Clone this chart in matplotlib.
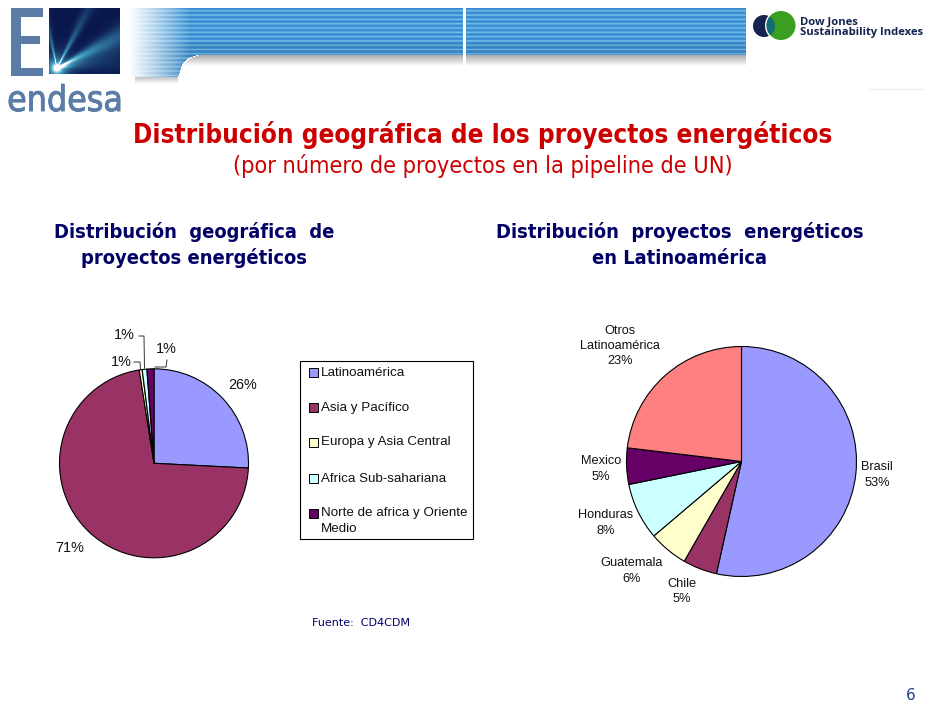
import numpy as np
import matplotlib
matplotlib.use("Agg")
import matplotlib.pyplot as plt
import matplotlib.patheffects as pe
from matplotlib.patches import Rectangle, Circle

W, H = 940, 705

# left pie
world_labels = ["Latinoamérica", "Asia y Pacífico", "Europa y Asia Central",
                "Africa Sub-sahariana", "Norte de africa y Oriente\nMedio"]
world_values = [25.8, 71.7, 0.5, 0.8, 1.2]
world_colors = ["#9999ff", "#993366", "#ffffcc", "#ccffff", "#660066"]
world_texts = ["26%", "71%", "1%", "1%", "1%"]

# right pie
latam_labels = ["Brasil", "Chile", "Guatemala", "Honduras", "Mexico", "Otros\nLatinoamérica"]
latam_values = [53.5, 4.8, 5.5, 8.0, 5.1, 23.1]
latam_colors = ["#9999ff", "#993366", "#ffffcc", "#ccffff", "#660066", "#ff8080"]
latam_texts = ["53%", "5%", "6%", "8%", "5%", "23%"]

fig = plt.figure(figsize=(9.4, 7.05), dpi=100, facecolor="white")

bg = fig.add_axes([0, 0, 1, 1])
bg.axis("off")


def pie_at(cx, cy, r, values, colors):
    ax = fig.add_axes([(cx - r) / W, 1 - (cy + r) / H, 2 * r / W, 2 * r / H])
    ax.pie(values, colors=colors, startangle=90, counterclock=False,
           wedgeprops=dict(edgecolor="black", linewidth=0.8, clip_on=False))
    ax.set_xlim(-1, 1)
    ax.set_ylim(-1, 1)
    ax.set_zorder(2)
    return ax


# banner raster, one pixel per pixel: stripes, left fade, curved notch, shadow
xx, yy = np.meshgrid(np.arange(126, 746) + 0.5, np.arange(8, 88) + 0.5)
light = np.exp(-((yy % 4.3 - 2.2) / 0.9) ** 2)
rgb = np.array([0.22, 0.55, 0.82])[None, None, :] + light[:, :, None] * np.array([0.24, 0.19, 0.10])
low = (yy > 43)[:, :, None]
rgb = np.where(low, rgb * 0.93, rgb)
alpha = np.clip((xx - 128) / 62, 0, 1) ** 1.1
edge = np.interp(yy, [55, 58, 65, 77], [198, 188, 182, 178])
alpha = np.where((yy > 55) & (xx > edge), 0, alpha)
alpha = np.where(yy > 77, 0, alpha)
banner = np.dstack([np.clip(rgb, 0, 1), alpha])
# shadow below the strip and below the tab
shade = np.zeros_like(yy)
shade = np.where((yy > 54) & (yy < 66) & (xx > edge + 2), 0.62 * (66 - yy) / 12, shade)
shade = np.where((yy > 77) & (yy < 84) & (xx > 135) & (xx < 178), 0.42 * (84 - yy) / 7, shade)
shadow = np.dstack([np.full_like(yy, 0.42)] * 3 + [shade])
bg.imshow(shadow, extent=(126, 746, 88, 8), aspect="auto", zorder=1)
bg.imshow(banner, extent=(126, 746, 88, 8), aspect="auto", zorder=1.5, interpolation="bilinear")
bg.set_xlim(0, W)
bg.set_ylim(H, 0)
bg.add_patch(Rectangle((463, 8), 3, 58, fc="white", ec="none", zorder=3))
bg.plot([868, 924], [88.5, 88.5], color="#eeeeee", lw=1, zorder=1)

# endesa logo: the E, then the spark square
logo_blue = "#5b7ca6"
for box in [(10.5, 8, 10, 68), (10.5, 8, 32.5, 9), (10.5, 36, 29, 8), (10.5, 68, 32.5, 8)]:
    bg.add_patch(Rectangle(box[:2], box[2], box[3], fc=logo_blue, ec="none", zorder=3))
sx, sy = np.meshgrid(np.arange(49, 120) + 0.5, np.arange(8, 74) + 0.5)
dx, dy = sx - 57, 68 - sy
rad = np.hypot(dx, dy) + 0.1
ang = np.degrees(np.arctan2(dy, dx))
glow = np.exp(-rad / 7.0) * 1.5
for a, wid, length, amp in [(102, 4, 30, 0.8), (62, 5, 40, 0.75), (27, 8, 70, 0.75), (12, 14, 40, 0.5)]:
    glow = glow + amp * np.exp(-((ang - a) / wid) ** 2) * np.exp(-rad / length)
glow = np.clip(glow, 0, 1)[:, :, None]
dark = np.array([0.04, 0.09, 0.30])
mid = np.array([0.25, 0.62, 0.76])
spark = np.where(glow < 0.6, dark + (mid - dark) * glow / 0.6, mid + (1 - mid) * (glow - 0.6) / 0.4)
bg.imshow(spark, extent=(49, 120, 74, 8), aspect="auto", zorder=3, interpolation="bilinear")
bg.set_xlim(0, W)
bg.set_ylim(H, 0)
bg.text(65, 111, "endesa", color=logo_blue, fontsize=25.5, ha="center", va="baseline",
        family="DejaVu Sans", stretch="condensed", zorder=3,
        path_effects=[pe.withStroke(linewidth=0.7, foreground=logo_blue)])

# Dow Jones logo
djsi_dark = "#14234f"
bg.add_patch(Circle((764, 26), 11, fc=djsi_dark, ec="none", zorder=3))
bg.add_patch(Circle((781, 25.5), 16, fc="white", ec="none", zorder=4))
green = Circle((781, 25.5), 14.5, fc="#3a9e1e", ec="none", zorder=5)
bg.add_patch(green)
lens = Circle((764, 26), 11, fc="#0f6e78", ec="none", zorder=6)
bg.add_patch(lens)
lens.set_clip_path(green)
bg.text(800, 24.5, "Dow Jones", color=djsi_dark, fontsize=8.15, fontweight="bold",
        family="Open Sans", va="baseline", zorder=3)
bg.text(800, 35.5, "Sustainability Indexes", color=djsi_dark, fontsize=8.15, fontweight="bold",
        family="Open Sans", va="baseline", zorder=3)

# titles
bg.text(483, 135, "Distribución geográfica de los proyectos energéticos", color="#cc0000",
        fontsize=18.7, fontweight="bold", family="DejaVu Sans", ha="center", va="center",
        stretch="condensed")
bg.text(483, 166, "(por número de proyectos en la pipeline de UN)", color="#cc0000",
        fontsize=16.8, ha="center", va="center", family="DejaVu Sans", stretch="condensed")
navy = "#000066"
head = dict(color=navy, fontsize=14.45, fontweight="bold", ha="center", va="center",
            family="DejaVu Sans", stretch="condensed")
bg.text(194, 232, "Distribución  geográfica  de", **head)
bg.text(194, 258, "proyectos energéticos", **head)
bg.text(680, 232, "Distribución  proyectos  energéticos", **head)
bg.text(680, 258, "en Latinoamérica", **head)
bg.text(361, 623, "Fuente:  CD4CDM", color=navy, fontsize=8, ha="center", va="center",
        family="DejaVu Sans")
bg.text(911, 696, "6", color="#1f3f8f", fontsize=11, ha="center", va="center", family="DejaVu Sans")

# pies
pie_at(154, 463.3, 94.5, world_values, world_colors)
pie_at(741.5, 461.5, 115, latam_values, latam_colors)

# labels, drawn above the pies
top = fig.add_axes([0, 0, 1, 1])
top.set_xlim(0, W)
top.set_ylim(H, 0)
top.axis("off")
top.set_zorder(3)
font = dict(family="Liberation Sans", fontsize=9.6, color="#111111")
pct = dict(family="Liberation Sans", fontsize=10.4, color="#111111", ha="center", va="center")

top.text(243, 385, world_texts[0], **pct)
top.text(70, 548, world_texts[1], **pct)
top.text(121, 362, world_texts[2], **pct)
top.text(124, 335, world_texts[3], **pct)
top.text(166, 349, world_texts[4], **pct)
top.plot([134, 140, 140.5], [362, 362, 369], color="#333333", lw=0.7)
top.plot([139, 144, 144.5], [336, 336, 368], color="#333333", lw=0.7)
top.plot([155, 166, 167], [367, 367, 360], color="#333333", lw=0.7)

# right pie labels
side = dict(family="Liberation Sans", fontsize=9.2, color="#111111", ha="center", va="center",
            linespacing=1.38)
top.text(877, 475, latam_labels[0] + "\n" + latam_texts[0], **side)
top.text(682, 591.5, latam_labels[1] + "\n" + latam_texts[1], **side)
top.text(632, 571, latam_labels[2] + "\n" + latam_texts[2], **side)
top.text(606, 523, latam_labels[3] + "\n" + latam_texts[3], **side)
top.text(601, 469, latam_labels[4] + "\n" + latam_texts[4], **side)
top.text(620, 346, latam_labels[5] + "\n" + latam_texts[5], **side)

# legend box
top.add_patch(Rectangle((299.5, 360.5), 173, 178.5, fc="white", ec="black", lw=0.8))
legend_y = [372, 407, 442, 478, 513]
for y, name, col in zip(legend_y, world_labels, world_colors):
    top.add_patch(Rectangle((309, y - 4.5), 9, 9, fc=col, ec="black", lw=0.7))
    if "\n" in name:
        top.text(321, y + 8, name, ha="left", va="center", linespacing=1.38, **font)
    else:
        top.text(321, y + 0.5, name, ha="left", va="center", **font)

fig.savefig("out.png", dpi=100)
